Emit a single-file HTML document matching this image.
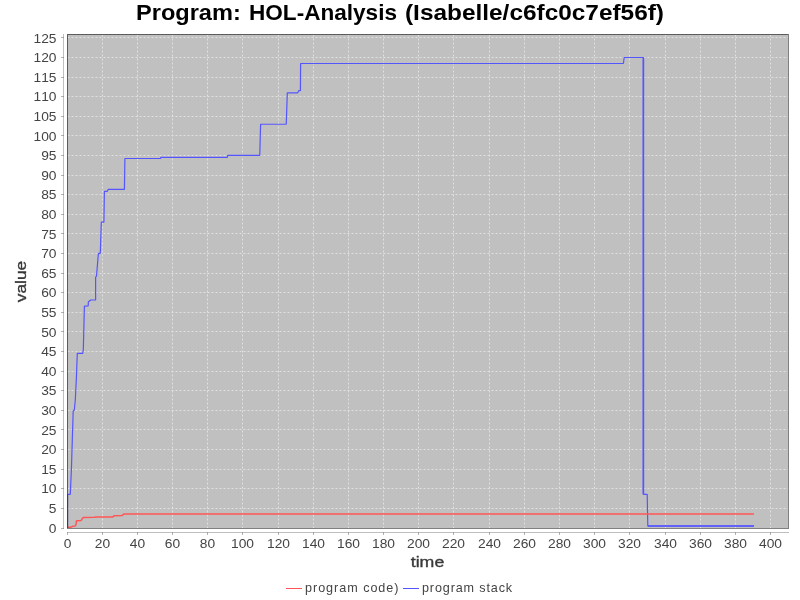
<!DOCTYPE html>
<html><head><meta charset="utf-8"><style>html,body{margin:0;padding:0;background:#fff;width:800px;height:600px;overflow:hidden}svg{display:block;will-change:transform}</style></head>
<body><svg width="800" height="600" viewBox="0 0 800 600" font-family='"Liberation Sans", sans-serif' style="font-kerning:none"><rect x="0" y="0" width="800" height="600" fill="#ffffff"/>
<rect x="67" y="34" width="722" height="495" fill="#c0c0c0"/>
<path d="M67.5 34.5V528M102.5 34.5V528M137.5 34.5V528M172.5 34.5V528M207.5 34.5V528M242.5 34.5V528M278.5 34.5V528M313.5 34.5V528M348.5 34.5V528M383.5 34.5V528M418.5 34.5V528M453.5 34.5V528M489.5 34.5V528M524.5 34.5V528M559.5 34.5V528M594.5 34.5V528M629.5 34.5V528M665.5 34.5V528M700.5 34.5V528M735.5 34.5V528M770.5 34.5V528M67.5 508.5H788M67.5 488.5H788M67.5 469.5H788M67.5 449.5H788M67.5 429.5H788M67.5 410.5H788M67.5 390.5H788M67.5 371.5H788M67.5 351.5H788M67.5 331.5H788M67.5 312.5H788M67.5 292.5H788M67.5 273.5H788M67.5 253.5H788M67.5 233.5H788M67.5 214.5H788M67.5 194.5H788M67.5 175.5H788M67.5 155.5H788M67.5 135.5H788M67.5 116.5H788M67.5 96.5H788M67.5 77.5H788M67.5 57.5H788M67.5 37.5H788" stroke="#e0e0e0" stroke-width="1" stroke-dasharray="2 2" fill="none"/>
<path d="M67 34.5H789M67.5 34V529" stroke="#5c5c5c" stroke-width="1" fill="none" shape-rendering="crispEdges"/>
<path d="M67 528.5H789M788.5 34V529" stroke="#808080" stroke-width="1" fill="none" shape-rendering="crispEdges"/>
<path d="M63.5 34V529M67 532.5H789" stroke="#808080" stroke-opacity="0.5" stroke-width="1" fill="none" shape-rendering="crispEdges"/>
<path d="M61 528.5H64M61 508.5H64M61 488.5H64M61 469.5H64M61 449.5H64M61 429.5H64M61 410.5H64M61 390.5H64M61 371.5H64M61 351.5H64M61 331.5H64M61 312.5H64M61 292.5H64M61 273.5H64M61 253.5H64M61 233.5H64M61 214.5H64M61 194.5H64M61 175.5H64M61 155.5H64M61 135.5H64M61 116.5H64M61 96.5H64M61 77.5H64M61 57.5H64M61 37.5H64M67.5 532V535M102.5 532V535M137.5 532V535M172.5 532V535M207.5 532V535M242.5 532V535M278.5 532V535M313.5 532V535M348.5 532V535M383.5 532V535M418.5 532V535M453.5 532V535M489.5 532V535M524.5 532V535M559.5 532V535M594.5 532V535M629.5 532V535M665.5 532V535M700.5 532V535M735.5 532V535M770.5 532V535" stroke="#808080" stroke-opacity="0.6" stroke-width="1" fill="none" shape-rendering="crispEdges"/>
<path d="M67.5 494.3 L70.3 494.3 L71.5 466.7 L72.3 440.0 L73.2 410.8 L74.3 410.0 L75.3 400.0 L75.7 391.7 L76.3 380.0 L77.3 353.3 L82.7 353.3 L83.3 350.0 L84.4 306.2 L88.2 306.0 L88.3 302.0 L90.7 300.0 L95.6 300.0 L95.6 277.3 L96.5 276.0 L97.0 270.0 L98.4 253.3 L100.3 253.3 L101.3 222.2 L103.9 222.2 L104.4 191.4 L107.3 191.4 L108.1 189.4 L124.4 189.4 L124.9 158.5 L160.5 158.5 L160.8 157.45 L227.3 157.45 L227.7 155.4 L259.75 155.4 L260.6 124.25 L286.25 124.25 L287.3 92.8 L297.7 92.8 L298.7 90.7 L300.4 90.7 L300.6 63.5 L623.4 63.5 L624.2 57.5 L643.4 57.5 L643.4 494.3 L647.2 494.3 L647.8 526.0 L754.0 526.0" stroke="#5555ff" stroke-width="1.2" fill="none" stroke-linejoin="bevel"/>
<path d="M643.4 57.5V494.3M647.8 526H754" stroke="#5555ff" stroke-width="1.6" fill="none"/>
<path d="M67.5 527.2 L70.9 527.2 L72.6 526.3 L75.0 526.1 L75.9 524.9 L76.5 520.8 L81.0 520.6 L83.2 517.4 L94.5 517.25 L95.6 517.0 L112.9 517.0 L114.0 515.7 L122.2 515.6 L123.7 513.9 L754.0 513.9" stroke="#ff5555" stroke-width="1.5" fill="none" stroke-linejoin="bevel"/>
<path d="M67.6 494.3V528" stroke="#383880" stroke-width="1.2"/>
<text x="56.5" y="533" text-anchor="end" font-size="12.6" fill="#444444" textLength="7.67" lengthAdjust="spacingAndGlyphs">0</text>
<text x="56.5" y="513" text-anchor="end" font-size="12.6" fill="#444444" textLength="7.67" lengthAdjust="spacingAndGlyphs">5</text>
<text x="56.5" y="493" text-anchor="end" font-size="12.6" fill="#444444" textLength="15.34" lengthAdjust="spacingAndGlyphs">10</text>
<text x="56.5" y="474" text-anchor="end" font-size="12.6" fill="#444444" textLength="15.34" lengthAdjust="spacingAndGlyphs">15</text>
<text x="56.5" y="454" text-anchor="end" font-size="12.6" fill="#444444" textLength="15.34" lengthAdjust="spacingAndGlyphs">20</text>
<text x="56.5" y="435" text-anchor="end" font-size="12.6" fill="#444444" textLength="15.34" lengthAdjust="spacingAndGlyphs">25</text>
<text x="56.5" y="415" text-anchor="end" font-size="12.6" fill="#444444" textLength="15.34" lengthAdjust="spacingAndGlyphs">30</text>
<text x="56.5" y="395" text-anchor="end" font-size="12.6" fill="#444444" textLength="15.34" lengthAdjust="spacingAndGlyphs">35</text>
<text x="56.5" y="376" text-anchor="end" font-size="12.6" fill="#444444" textLength="15.34" lengthAdjust="spacingAndGlyphs">40</text>
<text x="56.5" y="356" text-anchor="end" font-size="12.6" fill="#444444" textLength="15.34" lengthAdjust="spacingAndGlyphs">45</text>
<text x="56.5" y="337" text-anchor="end" font-size="12.6" fill="#444444" textLength="15.34" lengthAdjust="spacingAndGlyphs">50</text>
<text x="56.5" y="317" text-anchor="end" font-size="12.6" fill="#444444" textLength="15.34" lengthAdjust="spacingAndGlyphs">55</text>
<text x="56.5" y="297" text-anchor="end" font-size="12.6" fill="#444444" textLength="15.34" lengthAdjust="spacingAndGlyphs">60</text>
<text x="56.5" y="278" text-anchor="end" font-size="12.6" fill="#444444" textLength="15.34" lengthAdjust="spacingAndGlyphs">65</text>
<text x="56.5" y="258" text-anchor="end" font-size="12.6" fill="#444444" textLength="15.34" lengthAdjust="spacingAndGlyphs">70</text>
<text x="56.5" y="239" text-anchor="end" font-size="12.6" fill="#444444" textLength="15.34" lengthAdjust="spacingAndGlyphs">75</text>
<text x="56.5" y="219" text-anchor="end" font-size="12.6" fill="#444444" textLength="15.34" lengthAdjust="spacingAndGlyphs">80</text>
<text x="56.5" y="199" text-anchor="end" font-size="12.6" fill="#444444" textLength="15.34" lengthAdjust="spacingAndGlyphs">85</text>
<text x="56.5" y="180" text-anchor="end" font-size="12.6" fill="#444444" textLength="15.34" lengthAdjust="spacingAndGlyphs">90</text>
<text x="56.5" y="160" text-anchor="end" font-size="12.6" fill="#444444" textLength="15.34" lengthAdjust="spacingAndGlyphs">95</text>
<text x="56.5" y="141" text-anchor="end" font-size="12.6" fill="#444444" textLength="23.009999999999998" lengthAdjust="spacingAndGlyphs">100</text>
<text x="56.5" y="121" text-anchor="end" font-size="12.6" fill="#444444" textLength="23.009999999999998" lengthAdjust="spacingAndGlyphs">105</text>
<text x="56.5" y="101" text-anchor="end" font-size="12.6" fill="#444444" textLength="23.009999999999998" lengthAdjust="spacingAndGlyphs">110</text>
<text x="56.5" y="82" text-anchor="end" font-size="12.6" fill="#444444" textLength="23.009999999999998" lengthAdjust="spacingAndGlyphs">115</text>
<text x="56.5" y="62" text-anchor="end" font-size="12.6" fill="#444444" textLength="23.009999999999998" lengthAdjust="spacingAndGlyphs">120</text>
<text x="56.5" y="43" text-anchor="end" font-size="12.6" fill="#444444" textLength="23.009999999999998" lengthAdjust="spacingAndGlyphs">125</text>
<text x="67.5" y="548" text-anchor="middle" font-size="12.6" fill="#444444" textLength="7.67" lengthAdjust="spacingAndGlyphs">0</text>
<text x="102.5" y="548" text-anchor="middle" font-size="12.6" fill="#444444" textLength="15.34" lengthAdjust="spacingAndGlyphs">20</text>
<text x="137.5" y="548" text-anchor="middle" font-size="12.6" fill="#444444" textLength="15.34" lengthAdjust="spacingAndGlyphs">40</text>
<text x="172.5" y="548" text-anchor="middle" font-size="12.6" fill="#444444" textLength="15.34" lengthAdjust="spacingAndGlyphs">60</text>
<text x="207.5" y="548" text-anchor="middle" font-size="12.6" fill="#444444" textLength="15.34" lengthAdjust="spacingAndGlyphs">80</text>
<text x="242.5" y="548" text-anchor="middle" font-size="12.6" fill="#444444" textLength="23.009999999999998" lengthAdjust="spacingAndGlyphs">100</text>
<text x="278.5" y="548" text-anchor="middle" font-size="12.6" fill="#444444" textLength="23.009999999999998" lengthAdjust="spacingAndGlyphs">120</text>
<text x="313.5" y="548" text-anchor="middle" font-size="12.6" fill="#444444" textLength="23.009999999999998" lengthAdjust="spacingAndGlyphs">140</text>
<text x="348.5" y="548" text-anchor="middle" font-size="12.6" fill="#444444" textLength="23.009999999999998" lengthAdjust="spacingAndGlyphs">160</text>
<text x="383.5" y="548" text-anchor="middle" font-size="12.6" fill="#444444" textLength="23.009999999999998" lengthAdjust="spacingAndGlyphs">180</text>
<text x="418.5" y="548" text-anchor="middle" font-size="12.6" fill="#444444" textLength="23.009999999999998" lengthAdjust="spacingAndGlyphs">200</text>
<text x="453.5" y="548" text-anchor="middle" font-size="12.6" fill="#444444" textLength="23.009999999999998" lengthAdjust="spacingAndGlyphs">220</text>
<text x="489.5" y="548" text-anchor="middle" font-size="12.6" fill="#444444" textLength="23.009999999999998" lengthAdjust="spacingAndGlyphs">240</text>
<text x="524.5" y="548" text-anchor="middle" font-size="12.6" fill="#444444" textLength="23.009999999999998" lengthAdjust="spacingAndGlyphs">260</text>
<text x="559.5" y="548" text-anchor="middle" font-size="12.6" fill="#444444" textLength="23.009999999999998" lengthAdjust="spacingAndGlyphs">280</text>
<text x="594.5" y="548" text-anchor="middle" font-size="12.6" fill="#444444" textLength="23.009999999999998" lengthAdjust="spacingAndGlyphs">300</text>
<text x="629.5" y="548" text-anchor="middle" font-size="12.6" fill="#444444" textLength="23.009999999999998" lengthAdjust="spacingAndGlyphs">320</text>
<text x="665.5" y="548" text-anchor="middle" font-size="12.6" fill="#444444" textLength="23.009999999999998" lengthAdjust="spacingAndGlyphs">340</text>
<text x="700.5" y="548" text-anchor="middle" font-size="12.6" fill="#444444" textLength="23.009999999999998" lengthAdjust="spacingAndGlyphs">360</text>
<text x="735.5" y="548" text-anchor="middle" font-size="12.6" fill="#444444" textLength="23.009999999999998" lengthAdjust="spacingAndGlyphs">380</text>
<text x="770.5" y="548" text-anchor="middle" font-size="12.6" fill="#444444" textLength="23.009999999999998" lengthAdjust="spacingAndGlyphs">400</text>
<text x="427.5" y="567" text-anchor="middle" font-size="15" fill="#383838" stroke="#383838" stroke-width="0.35" textLength="33.5" lengthAdjust="spacingAndGlyphs">time</text>
<text transform="translate(25.5 281.5) rotate(-90)" x="0" y="0" text-anchor="middle" font-size="15" fill="#383838" stroke="#383838" stroke-width="0.35" textLength="41.5" lengthAdjust="spacingAndGlyphs">value</text>
<text x="136" y="20" font-size="21.5" font-weight="bold" fill="#000000" textLength="104.8" lengthAdjust="spacingAndGlyphs">Program:</text>
<text x="249" y="20" font-size="21.5" font-weight="bold" fill="#000000" textLength="148.0" lengthAdjust="spacingAndGlyphs">HOL-Analysis</text>
<text x="405" y="20" font-size="21.5" font-weight="bold" fill="#000000" textLength="259.0" lengthAdjust="spacingAndGlyphs">(Isabelle/c6fc0c7ef56f)</text>
<path d="M286 588.5H302" stroke="#ff5555" stroke-width="1" shape-rendering="crispEdges"/>
<path d="M403 588.5H419" stroke="#5555ff" stroke-width="1" shape-rendering="crispEdges"/>
<text x="305" y="592" font-size="12.6" fill="#444444" textLength="93.5" lengthAdjust="spacing">program code)</text>
<text x="422" y="592" font-size="12.6" fill="#444444" textLength="90.1" lengthAdjust="spacing">program stack</text></svg></body></html>
